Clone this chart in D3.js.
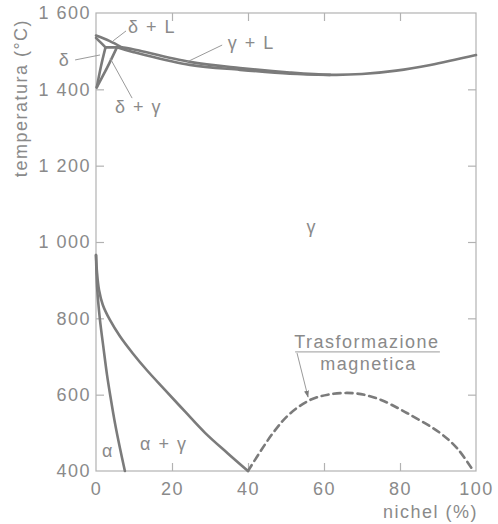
<!DOCTYPE html>
<html lang="it">
<head>
<meta charset="UTF-8">
<title>Diagramma Fe-Ni</title>
<style>
  body { margin: 0; background: #fff; }
  .chart text { fill: #8a8a8a; font: 18px "Liberation Sans", Arial, sans-serif; letter-spacing: 1.5px; }
  .frame { fill: none; stroke: #b2b2b2; stroke-width: 1.2; }
  .tick line { stroke: #b2b2b2; stroke-width: 1.2; }
  .domain { display: none; }
  .curve { fill: none; stroke: #7b7b7b; stroke-width: 2.6; stroke-linecap: round; }
  .lead { fill: none; stroke: #9a9a9a; stroke-width: 1; }
</style>
</head>
<body>
<svg class="chart"></svg>
<script src="https://d3js.org/d3.v7.min.js"></script>
<script>

// nickel content (%) , temperature (°C)
var xTicks = [0, 20, 40, 60, 80, 100];
var yTicks = [400, 600, 800, 1000, 1200, 1400, 1600];

var deltaLiquidus = [[0, 1541], [3.5, 1527], [6.8, 1510]];
var deltaSolidus = [[0, 1535], [1.2, 1523], [2.5, 1510]];
var peritectic = [[2.5, 1510], [6.8, 1510]];
var deltaLeft = [[2.5, 1510], [1.3, 1460], [0.2, 1405]];
var deltaRight = [[5.5, 1510], [3.0, 1458], [0.2, 1405]];
var liquidus = [[6.8, 1510], [9.7, 1505], [11.6, 1501], [24.7, 1472], [37.9, 1456], [51, 1444],
                [61.6, 1438], [70, 1440], [79, 1449], [88, 1464], [100, 1490]];
var solidus = [[5.5, 1510], [9.7, 1498], [11.6, 1493], [24.7, 1464], [37.9, 1451], [51, 1441], [61.6, 1438]];
var gammaLimit = [[0, 966], [0.26, 921], [0.8, 874], [1.8, 835], [3.7, 795], [6.3, 753], [9.7, 708],
                  [13.4, 664], [18.2, 612], [23.4, 556], [28.7, 500], [34.7, 446], [40, 400]];
var alphaLimit = [[0, 966], [0.3, 880], [1, 800], [2, 720], [2.9, 652], [3.8, 595], [5, 525], [6.3, 460], [7.6, 400]];
var magnetic = [[40, 400], [46.6, 500], [51, 550], [56.3, 586], [61, 600], [67.6, 604], [74, 590],
                [81.8, 552], [90.5, 500], [95, 460], [99, 405]];

// labels: text, x%, T, anchor
var labels = [
  ["δ + L", 8.4, 1548, "start"],
  ["δ", -6.8, 1461, "end"],
  ["δ + γ", 5, 1339, "start"],
  ["γ + L", 34.7, 1506, "start"],
  ["γ", 56.8, 1024, "middle"],
  ["α", 1.6, 437, "start"],
  ["α + γ", 11.6, 455, "start"],
  ["Trasformazione", 71.3, 722, "middle"],
  ["magnetica", 71.7, 665, "middle"]
];
// leader lines [x1,T1,x2,T2]
var leaders = [
  [7.9, 1553, 4.5, 1527],
  [-5.5, 1477, 1.05, 1490],
  [9.5, 1377, 3.7, 1482],
  [33.2, 1516, 24, 1472],
  [52.4, 712, 90.5, 712]
];
var arrow = [52.9, 709, 55.8, 594];

var width = 498, height = 524;

var x = d3.scaleLinear().domain([0, 100]).range([96, 476]);
var y = d3.scaleLinear().domain([400, 1600]).range([471, 13]);

var svg = d3.select(".chart").attr("width", width).attr("height", height);

var fmt = d3.formatLocale({decimal: ".", thousands: " ", grouping: [3], currency: ["", ""]}).format(",");

svg.append("defs").append("marker")
    .attr("id", "head")
    .attr("viewBox", "0 0 10 10")
    .attr("refX", 9).attr("refY", 5)
    .attr("markerWidth", 7).attr("markerHeight", 9)
    .attr("orient", "auto")
  .append("path")
    .attr("d", "M0,1.5L10,5L0,8.5Z")
    .attr("fill", "#7b7b7b");

svg.append("rect").attr("class", "frame")
    .attr("x", x(0)).attr("y", y(1600))
    .attr("width", x(100) - x(0)).attr("height", y(400) - y(1600));

// axes, ticks pointing inside the frame
svg.append("g").attr("transform", "translate(" + x(0) + ",0)")
    .call(d3.axisLeft(y).tickValues(yTicks).tickSizeInner(-8).tickSizeOuter(0).tickPadding(5).tickFormat(fmt));
svg.append("g").attr("transform", "translate(" + x(100) + ",0)")
    .call(d3.axisRight(y).tickValues(yTicks.slice(1, -1)).tickSizeInner(-8).tickSizeOuter(0).tickFormat(""));
svg.append("g").attr("transform", "translate(0," + y(400) + ")")
    .call(d3.axisBottom(x).tickValues(xTicks).tickSizeInner(-8).tickSizeOuter(0).tickPadding(11));
svg.append("g").attr("transform", "translate(0," + y(1600) + ")")
    .call(d3.axisTop(x).tickValues(xTicks.slice(1, -1)).tickSizeInner(-8).tickSizeOuter(0).tickFormat(""));

// hide the ticks sitting on the frame corners
svg.selectAll(".tick line").filter(function(d) { return d === 0 || d === 100 || d === 1600 || d === 400; }).remove();

svg.selectAll(".tick text").style("fill", null);

svg.append("text").attr("x", x(100) + 2).attr("y", 518).attr("text-anchor", "end").text("nichel (%)");
svg.append("text").attr("transform", "translate(27,98) rotate(-90)")
    .attr("text-anchor", "middle").text("temperatura (°C)");

var line = d3.line()
    .x(function(d) { return x(d[0]); })
    .y(function(d) { return y(d[1]); })
    .curve(d3.curveCatmullRom.alpha(0.5));

[deltaLiquidus, deltaSolidus, peritectic, deltaLeft, deltaRight, liquidus, solidus, gammaLimit, alphaLimit]
  .forEach(function(c) {
    svg.append("path").attr("class", "curve").attr("d", line(c));
  });

svg.append("path").attr("class", "curve")
    .attr("stroke-dasharray", "7,5")
    .attr("d", line(magnetic));

svg.selectAll(".lead").data(leaders).enter().append("line")
    .attr("class", "lead")
    .attr("x1", function(d) { return x(d[0]); }).attr("y1", function(d) { return y(d[1]); })
    .attr("x2", function(d) { return x(d[2]); }).attr("y2", function(d) { return y(d[3]); });

svg.append("line").attr("class", "lead")
    .attr("x1", x(arrow[0])).attr("y1", y(arrow[1]))
    .attr("x2", x(arrow[2])).attr("y2", y(arrow[3]))
    .attr("marker-end", "url(#head)");

svg.selectAll(".lbl").data(labels).enter().append("text")
    .attr("class", "lbl")
    .attr("x", function(d) { return x(d[1]); })
    .attr("y", function(d) { return y(d[2]); })
    .attr("text-anchor", function(d) { return d[3]; })
    .text(function(d) { return d[0]; });

</script>
</body>
</html>
